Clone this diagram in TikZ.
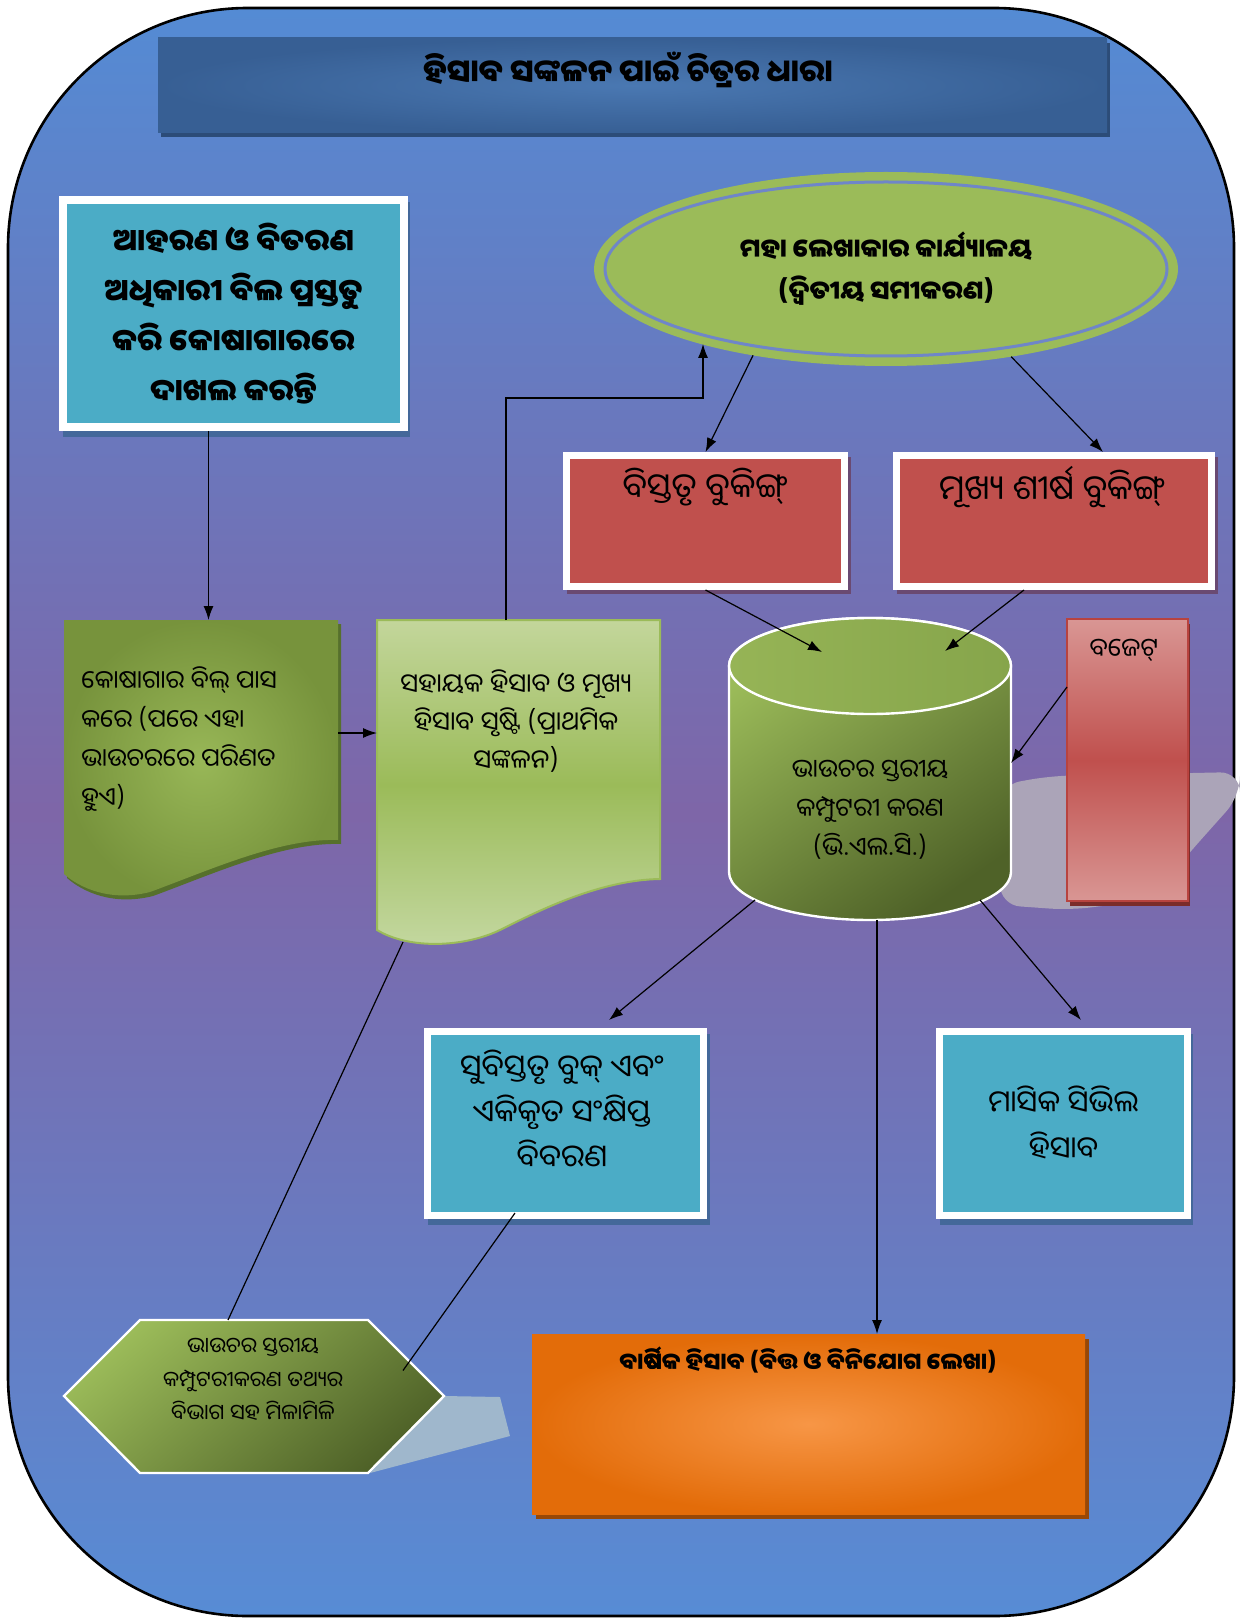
\documentclass[tikz,border=0pt]{standalone}
\usepackage{fontspec}
\newfontfamily\odia[Script=Oriya]{Noto Sans Oriya UI}
\usetikzlibrary{arrows.meta,calc,shapes.geometric}
\definecolor{bgblue}{HTML}{548BD4}
\definecolor{bgpurple}{HTML}{7E66A8}
\definecolor{bgblueb}{HTML}{578CD5}
\definecolor{titlein}{HTML}{4A78B2}
\definecolor{titleout}{HTML}{375F94}
\definecolor{titleshd}{HTML}{2C4C78}
\definecolor{tealc}{HTML}{4BACC6}
\definecolor{tealshd}{HTML}{44689A}
\definecolor{redc}{HTML}{C0504D}
\definecolor{redshd}{HTML}{6A4A72}
\definecolor{ellgreen}{HTML}{9BBB59}
\definecolor{ringblue}{HTML}{6F86C8}
\definecolor{dgreen}{HTML}{77933C}
\definecolor{dgreenin}{HTML}{98B757}
\definecolor{dgreenshd}{HTML}{56702C}
\definecolor{lgtop}{HTML}{C3D69B}
\definecolor{lgmid}{HTML}{9BBB59}
\definecolor{lgbot}{HTML}{C4D8A1}
\definecolor{cyllight}{HTML}{9BBB59}
\definecolor{cyldark}{HTML}{4F6228}
\definecolor{cyltopl}{HTML}{96B456}
\definecolor{cyltopr}{HTML}{86A54B}
\definecolor{pinkc}{HTML}{D99694}
\definecolor{budgetline}{HTML}{B8433F}
\definecolor{budgetshd}{HTML}{7B2C2A}
\definecolor{blobc}{HTML}{ABA4B8}
\definecolor{hexshd}{HTML}{9FB7CC}
\definecolor{orin}{HTML}{F79646}
\definecolor{orout}{HTML}{E36C09}
\definecolor{orshd}{HTML}{984807}
\pgfdeclareverticalshading{bgshade}{100bp}{color(0bp)=(bgblueb); color(25bp)=(bgblueb); color(50bp)=(bgpurple); color(75bp)=(bgblue); color(100bp)=(bgblue)}
\pgfdeclareverticalshading{doctwo}{100bp}{color(0bp)=(lgbot); color(25bp)=(lgbot); color(50bp)=(lgmid); color(75bp)=(lgtop); color(100bp)=(lgtop)}
\pgfdeclareverticalshading{budgetshade}{100bp}{color(0bp)=(pinkc); color(25bp)=(pinkc); color(50bp)=(redc); color(75bp)=(pinkc); color(100bp)=(pinkc)}
\newcommand\odsz[2]{\odia\fontsize{#1}{#2}\selectfont}
\begin{document}
\begin{tikzpicture}[x=0.5pt,y=-0.5pt,
  arr/.style={-{Latex[length=7pt,width=5pt]}, line width=0.6pt, black},
  ln/.style={line width=0.6pt, black},
  tealbox/.style={draw=white, line width=4pt, fill=tealc, inner sep=0pt, align=center},
  redbox/.style={draw=white, line width=3.5pt, fill=redc, inner sep=0pt},
  area/.style={inner sep=0pt, outer sep=0pt},
  txt/.style={inner sep=0pt, align=center, text=black},
]
\useasboundingbox (0,0) rectangle (1240,1620);
% background
\path[shading=bgshade, rounded corners=120pt] (8,8) rectangle (1234,1616);
\draw[line width=1.3pt, rounded corners=120pt] (8,8) rectangle (1234,1616);
% title
\fill[titleshd] (161,43) rectangle (1110,137);
\node[area, inner color=titlein, outer color=titleout, minimum width=474.5pt, minimum height=47.5pt] (title) at (632.5,85.5) {};
\node[txt, font=\odsz{15.6}{20}\bfseries] (titletext) at (628,70) {ହିସାବ ସଙ୍କଳନ ପାଇଁ ଚିତ୍ରର ଧାରା};
% box 1
\fill[tealshd] (63,202) rectangle (410,437);
\node[tealbox, minimum width=170.5pt, minimum height=113.5pt, font=\odsz{15.3}{25}\bfseries] (b1) at (233.5,313.5) {ଆହରଣ ଓ ବିତରଣ\\ଅଧିକାରୀ ବିଲ ପ୍ରସ୍ତୁତ\\କରି କୋଷାଗାରରେ\\ଦାଖଲ କରନ୍ତି};
% ellipse
\node[ellipse, area, fill=ellgreen, minimum width=292pt, minimum height=97pt, font=\odsz{12.9}{21}\bfseries, align=center] (ell) at (886,269) {ମହା ଲେଖାକାର କାର୍ଯ୍ୟାଳୟ\\(ଦ୍ୱିତୀୟ ସମୀକରଣ)};
\draw[ringblue, line width=1.5pt] (ell.center) ellipse [x radius=281, y radius=87];
% red boxes
\fill[redshd] (567,457) rectangle (851,594);
\node[redbox, minimum width=139pt, minimum height=65.5pt] (rb1) at (705.5,521) {};
\node[txt, font=\odsz{17}{20}] (rb1t) at (705,487) {ବିସ୍ତୃତ ବୁକିଙ୍ଗ୍};
\fill[redshd] (897,457) rectangle (1218,594);
\node[redbox, minimum width=157.5pt, minimum height=65.5pt] (rb2) at (1054,521) {};
\node[txt, font=\odsz{17}{20}] (rb2t) at (1052,487) {ମୂଖ୍ୟ ଶୀର୍ଷ ବୁକିଙ୍ଗ୍};
% document 1
\node[area, minimum width=137pt, minimum height=137pt] (doc1) at (201,757) {};
\fill[dgreenshd] (67,624) -- (341,624) -- (341,844) .. controls (283,842) and (213,874) .. (153,896) .. controls (113,906) and (83,892) .. (67,878) -- cycle;
\path[inner color=dgreenin, outer color=dgreen] (64,620) -- (338,620) -- (338,840) .. controls (280,838) and (210,870) .. (150,892) .. controls (110,902) and (80,888) .. (64,874) -- cycle;
\node[txt, align=left, anchor=west, font=\odsz{12.5}{19.5}] (doc1t) at (81,739) {କୋଷାଗାର ବିଲ୍ ପାସ\\କରେ (ପରେ ଏହା\\ଭାଉଚରରେ ପରିଣତ\\ହୁଏ)};
% document 2
\node[area, minimum width=141.5pt, minimum height=162.5pt] (doc2) at (518.5,782.5) {};
\shadedraw[shading=doctwo, draw=lgmid, line width=1pt] (377,620) -- (660,620) -- (660,879) .. controls (600,880) and (540,910) .. (500,930) .. controls (465,947) and (410,950) .. (377,930) -- cycle;
\node[txt, font=\odsz{13}{19}] (doc2t) at (516,721) {ସହାୟକ ହିସାବ ଓ ମୂଖ୍ୟ\\ହିସାବ ସୃଷ୍ଟି (ପ୍ରାଥମିକ\\ସଙ୍କଳନ)};
% blob shadow behind cylinder
\fill[blobc, rounded corners=10pt] (1000,785) -- (1050,776) -- (1240,772) -- (1240,796) -- (1190,852) .. controls (1150,900) .. (1070,910) -- (1000,905) -- cycle;
% cylinder
\node[area, minimum width=141pt, minimum height=151pt] (cyl) at (870,769) {};
\shadedraw[draw=white, line width=1.2pt, top color=cyllight, bottom color=cyldark, shading angle=35] (729,666) -- (729,872) arc[start angle=180, end angle=0, x radius=141, y radius=48] -- (1011,666) arc[start angle=0, end angle=-180, x radius=141, y radius=48] -- cycle;
\shadedraw[draw=white, line width=1.2pt, left color=cyltopl, right color=cyltopr] (870,666) ellipse [x radius=141, y radius=48];
\node[txt, font=\odsz{12.7}{19.5}] (cylt) at (870,810) {ଭାଉଚର ସ୍ତରୀୟ\\କମ୍ପୁଟରୀ କରଣ\\(ଭି.ଏଲ.ସି.)};
% budget
\fill[budgetshd] (1070,624) rectangle (1190,906);
\node[area, shading=budgetshade, draw=budgetline, line width=1pt, minimum width=60.5pt, minimum height=141pt] (budget) at (1127.5,760) {};
\node[txt, font=\odsz{12.7}{15}] (budt) at (1124,650) {ବଜେଟ୍};
% detailed book box
\fill[tealshd] (428,1034) rectangle (710,1225);
\node[tealbox, line width=3.5pt, minimum width=138pt, minimum height=92pt] (sb) at (565,1123.5) {};
\node[txt, font=\odsz{15.5}{22.5}] (sbt) at (562,1110) {ସୁବିସ୍ତୃତ ବୁକ୍ ଏବଂ\\ଏକିକୃତ ସଂକ୍ଷିପ୍ତ\\ବିବରଣ};
% monthly box
\fill[tealshd] (940,1034) rectangle (1193,1225);
\node[tealbox, line width=3.5pt, minimum width=124pt, minimum height=92pt, font=\odsz{15}{23}] (mb) at (1063.5,1123.5) {ମାସିକ ସିଭିଲ\\ହିସାବ};
% hexagon
\node[area, minimum width=190pt, minimum height=76.5pt] (hex) at (254,1396.5) {};
\fill[hexshd] (444,1396) -- (500,1397) -- (510,1436) -- (370,1473) -- cycle;
\shadedraw[draw=white, line width=1.2pt, top color=cyllight, bottom color=cyldark, shading angle=40] (64,1396) -- (140,1320) -- (368,1320) -- (444,1396) -- (368,1473) -- (140,1473) -- cycle;
\node[txt, font=\odsz{10.7}{16.75}] (hext) at (253,1380) {ଭାଉଚର ସ୍ତରୀୟ\\କମ୍ପୁଟରୀକରଣ ତଥ୍ୟର\\ବିଭାଗ ସହ ମିଳାମିଳି};
% annual
\fill[orshd] (536,1339) rectangle (1089,1519);
\node[area, inner color=orin, outer color=orout, minimum width=276.5pt, minimum height=90pt] (annual) at (808.5,1424) {};
\node[txt, font=\odsz{11.5}{14}\bfseries] (annt) at (808,1360) {ବା\rlap{ର୍ଷ}ଷିକ ହିସାବ (ବିତ୍ତ ଓ ବିନିଯୋଗ ଲେଖା)};
% connectors
\coordinate (bend) at (703,398);
\draw[arr] ([xshift=-12.5pt]b1.south) -- ([xshift=-12.5pt]b1.south |- doc1.north);
\draw[arr] ([yshift=12pt]doc1.east) -- ([yshift=12pt]doc1.east -| doc2.west);
\draw[arr] ([xshift=-6.25pt]doc2.north) |- (bend) -- (ell.202 -| bend);
\draw[arr] (ell.213) -- (rb1.north);
\draw[arr] (ell.-35) -- ([xshift=24.5pt]rb2.north);
\draw[arr] (rb1.south) -- ($(cyl.north west)+(93,34)$);
\draw[arr] ([xshift=-15pt]rb2.south) -- ($(cyl.north west)+(216,33)$);
\draw[arr] ([yshift=36.5pt]budget.west) -- ([yshift=3pt]cyl.east);
\draw[arr] ($(cyl.south west)+(26,-20)$) -- ([shift={(22pt,4pt)}]sb.north);
\draw[arr] ([xshift=3.5pt]cyl.south) -- ([xshift=3.5pt]cyl.south |- annual.north);
\draw[arr] ($(cyl.south east)+(-31,-20)$) -- ([shift={(8.75pt,4pt)}]mb.north);
\draw[ln] ($(doc2.south west)+(26,-3)$) -- ([xshift=-13pt]hex.north);
\draw[ln] ($(sb.south)+(-50,-6)$) -- ($(hex.east)+(-41,-26)$);
\end{tikzpicture}
\end{document}
